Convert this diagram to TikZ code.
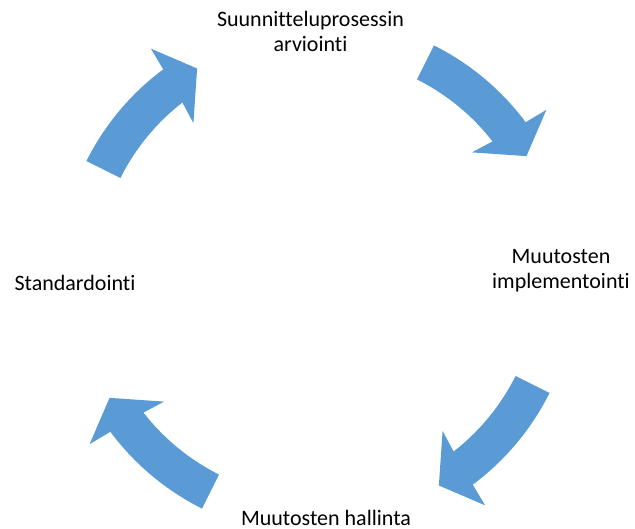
\documentclass[tikz,border=0pt]{standalone}
\usepackage{fontspec}
\setmainfont{Carlito}[Ligatures={NoCommon}]
\definecolor{arrowblue}{HTML}{5B9BD5}
\tikzset{
  cyclearrow/.style={fill=arrowblue, draw=none},
  lbl/.style={font=\fontsize{22}{25}\selectfont, text=black, align=center, inner sep=0pt, anchor=base}
}
\begin{document}
\begin{tikzpicture}[x=1pt,y=1pt]
\useasboundingbox (-318pt,-252pt) rectangle (317pt,277pt);
\foreach \r in {0,-90,-180,-270}{
  \path[cyclearrow, rotate=\r]
    (153.4:259pt) arc[start angle=153.4, end angle=126.7, radius=259pt]
    -- (126.2:283pt) -- (120.1:241pt) -- (129:198pt) -- (127.85:221pt)
    arc[start angle=127.85, end angle=153.4, radius=221pt] -- cycle;
}
\node[lbl] (top) at (-7.5pt,225.5pt) {Suunnitteluprosessin\\arviointi};
\node[lbl] (right) at (243pt,-11.3pt) {Muutosten\\implementointi};
\node[lbl] (bottom) at (8pt,-249pt) {Muutosten hallinta};
\node[lbl] (left) at (-243pt,-14pt) {Standardointi};
\end{tikzpicture}
\end{document}
